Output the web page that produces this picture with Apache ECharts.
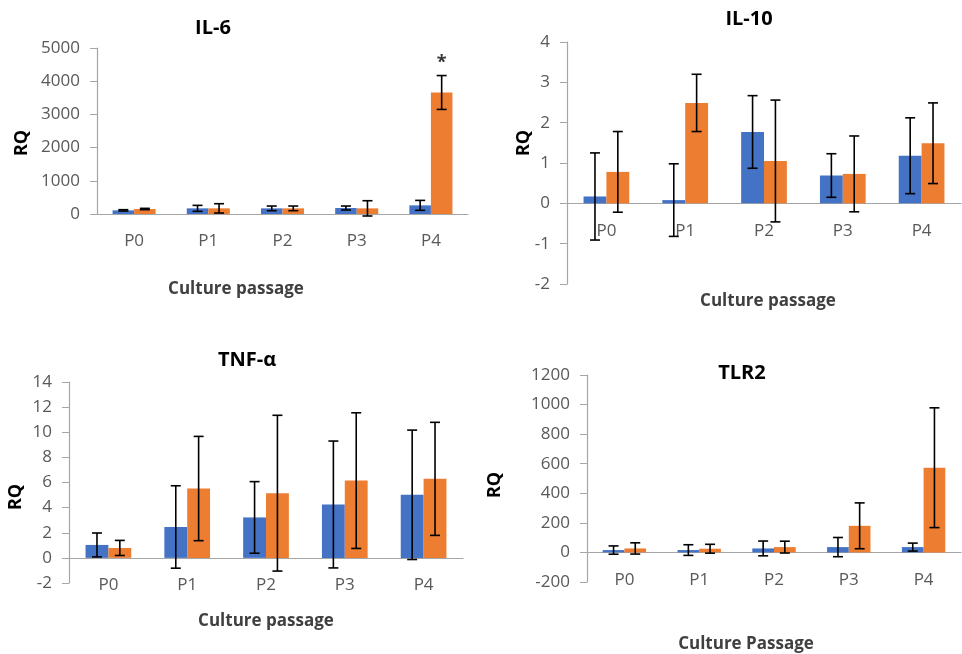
<!DOCTYPE html>
<html>
<head>
<meta charset="utf-8">
<script src="https://cdn.jsdelivr.net/npm/echarts@6/dist/echarts.min.js"></script>
<style>
  html, body { margin: 0; padding: 0; background: #fff; }
  #chart { width: 962px; height: 654px; }
</style>
</head>
<body>
<div id="chart"></div>
<script>
// categories shared by all four panels
const categories = ['P0', 'P1', 'P2', 'P3', 'P4']

// IL-6
const il6Blue = [110, 170, 170, 180, 260]
const il6BlueErr = [20, 90, 70, 60, 150]
const il6Orange = [150, 170, 170, 170, 3660]
const il6OrangeErr = [20, 140, 70, 230, 510]
const il6Marks = ['', '', '', '', '*']

// IL-10
const il10Blue = [0.17, 0.08, 1.77, 0.69, 1.18]
const il10BlueErr = [1.08, 0.9, 0.9, 0.54, 0.94]
const il10Orange = [0.78, 2.49, 1.05, 0.73, 1.49]
const il10OrangeErr = [1.0, 0.71, 1.51, 0.94, 1.0]

// TNF-α
const tnfBlue = [1.03, 2.46, 3.22, 4.25, 5.02]
const tnfBlueErr = [0.95, 3.28, 2.85, 5.05, 5.15]
const tnfOrange = [0.79, 5.52, 5.15, 6.15, 6.29]
const tnfOrangeErr = [0.6, 4.15, 6.2, 5.4, 4.5]

// TLR2
const tlrBlue = [16, 16, 27, 36, 36]
const tlrBlueErr = [28, 36, 50, 65, 27]
const tlrOrange = [27, 25, 36, 180, 573]
const tlrOrangeErr = [38, 30, 40, 155, 405]

// y axis ticks
const il6Ticks = { min: 0, max: 5000, interval: 1000 }
const il10Ticks = { min: -2, max: 4, interval: 1 }
const tnfTicks = { min: -2, max: 14, interval: 2 }
const tlrTicks = { min: -200, max: 1200, interval: 200 }

const BLUE = '#4472C4'
const ORANGE = '#ED7D31'
const AXIS = '#A6A6A6'
const GAP = 0.42
const FONT = '"Open Sans", "Noto Sans", sans-serif'
const H = 654

const panels = [
  {
    title: 'IL-6', xName: 'Culture passage', ticks: il6Ticks,
    blue: il6Blue, blueErr: il6BlueErr, orange: il6Orange, orangeErr: il6OrangeErr, marks: il6Marks,
    grid: { left: 97, right: 494, top: 48, bottom: 440 },
    titlePos: [213, 28], rqPos: [22, 143], xNamePos: [236, 289]
  },
  {
    title: 'IL-10', xName: 'Culture passage', ticks: il10Ticks,
    blue: il10Blue, blueErr: il10BlueErr, orange: il10Orange, orangeErr: il10OrangeErr, marks: [],
    grid: { left: 567, right: 1, top: 42, bottom: 370 },
    titlePos: [749, 19], rqPos: [524, 143], xNamePos: [768, 301]
  },
  {
    title: 'TNF-α', xName: 'Culture passage', ticks: tnfTicks,
    blue: tnfBlue, blueErr: tnfBlueErr, orange: tnfOrange, orangeErr: tnfOrangeErr, marks: [],
    grid: { left: 69, right: 499, top: 382, bottom: 71 },
    titlePos: [247, 360], rqPos: [16, 497], xNamePos: [266, 621]
  },
  {
    title: 'TLR2', xName: 'Culture Passage', ticks: tlrTicks,
    blue: tlrBlue, blueErr: tlrBlueErr, orange: tlrOrange, orangeErr: tlrOrangeErr, marks: [],
    grid: { left: 587, right: 1, top: 375, bottom: 72 },
    titlePos: [742, 373], rqPos: [495, 485], xNamePos: [746, 644]
  }
]

// error bar drawn at the centre of the blue (side -1) or orange (side 1) bar
const makeErrorBar = (side, marks) => (params, api) => {
  const i = api.value(0)
  const m = api.value(1)
  const e = api.value(2)
  const barW = api.size([1, 0])[0] * (1 - GAP) / 2
  const x = api.coord([i, m])[0] + side * barW / 2
  const top = api.coord([i, m + e])[1]
  const bot = api.coord([i, m - e])[1]
  const style = { stroke: '#000', lineWidth: 1.6 }
  const children = [
    { type: 'line', shape: { x1: x, y1: top, x2: x, y2: bot }, style },
    { type: 'line', shape: { x1: x - 5, y1: top, x2: x + 5, y2: top }, style },
    { type: 'line', shape: { x1: x - 5, y1: bot, x2: x + 5, y2: bot }, style }
  ]
  const mark = marks[params.dataIndex]
  if (mark) {
    children.push({
      type: 'text',
      style: {
        x, y: top - 13, text: mark, fill: '#333',
        font: `bold 18px ${FONT}`, align: 'center', verticalAlign: 'middle'
      }
    })
  }
  return { type: 'group', children }
}

const grid = []
const xAxis = []
const yAxis = []
const series = []
const graphic = []

panels.forEach((p, k) => {
  grid.push(p.grid)
  // lift the category axis (line + labels) up to the zero line, like Excel does
  const plotH = H - p.grid.top - p.grid.bottom
  const zeroLift = plotH * (0 - p.ticks.min) / (p.ticks.max - p.ticks.min)
  xAxis.push({
    type: 'category',
    gridIndex: k,
    data: categories,
    position: 'bottom',
    offset: -zeroLift,
    axisLine: { onZero: false, lineStyle: { color: AXIS, width: 1.2 } },
    axisTick: { show: false },
    axisLabel: { color: '#595959', fontSize: 17, fontFamily: FONT, margin: 19 }
  })
  yAxis.push({
    type: 'value',
    gridIndex: k,
    min: p.ticks.min,
    max: p.ticks.max,
    interval: p.ticks.interval,
    splitLine: { show: false },
    axisLine: { show: true, lineStyle: { color: AXIS, width: 1.2 } },
    axisTick: { show: true, length: 7, lineStyle: { color: AXIS } },
    axisLabel: {
      color: '#595959', fontSize: 17, fontFamily: FONT, margin: 17,
      formatter: (v) => String(v)
    }
  })
  series.push(
    {
      type: 'bar', xAxisIndex: k, yAxisIndex: k,
      data: p.blue, barGap: 0, barCategoryGap: GAP * 100 + '%',
      itemStyle: { color: BLUE }
    },
    {
      type: 'bar', xAxisIndex: k, yAxisIndex: k,
      data: p.orange, barGap: 0, barCategoryGap: GAP * 100 + '%',
      itemStyle: { color: ORANGE }
    },
    {
      type: 'custom', xAxisIndex: k, yAxisIndex: k, z: 5, clip: false,
      encode: { x: 0, y: 1 },
      data: p.blue.map((v, i) => [i, v, p.blueErr[i]]),
      renderItem: makeErrorBar(-1, [])
    },
    {
      type: 'custom', xAxisIndex: k, yAxisIndex: k, z: 5, clip: false,
      encode: { x: 0, y: 1 },
      data: p.orange.map((v, i) => [i, v, p.orangeErr[i]]),
      renderItem: makeErrorBar(1, p.marks)
    }
  )
  graphic.push(
    {
      type: 'text', x: p.titlePos[0], y: p.titlePos[1], z: 10,
      style: { text: p.title, fill: '#000', font: `bold 20px ${FONT}`, align: 'center', verticalAlign: 'middle' }
    },
    {
      type: 'text', x: p.rqPos[0], y: p.rqPos[1], rotation: Math.PI / 2,
      style: { text: 'RQ', fill: '#000', font: `bold 18px ${FONT}`, align: 'center', verticalAlign: 'middle' }
    },
    {
      type: 'text', x: p.xNamePos[0], y: p.xNamePos[1],
      style: { text: p.xName, fill: '#404040', font: `bold 17px ${FONT}`, align: 'center', verticalAlign: 'middle' }
    }
  )
})

const chart = echarts.init(document.getElementById('chart'))
chart.setOption({
  animation: false,
  backgroundColor: '#fff',
  grid,
  xAxis,
  yAxis,
  series,
  graphic
})
</script>
</body>
</html>
